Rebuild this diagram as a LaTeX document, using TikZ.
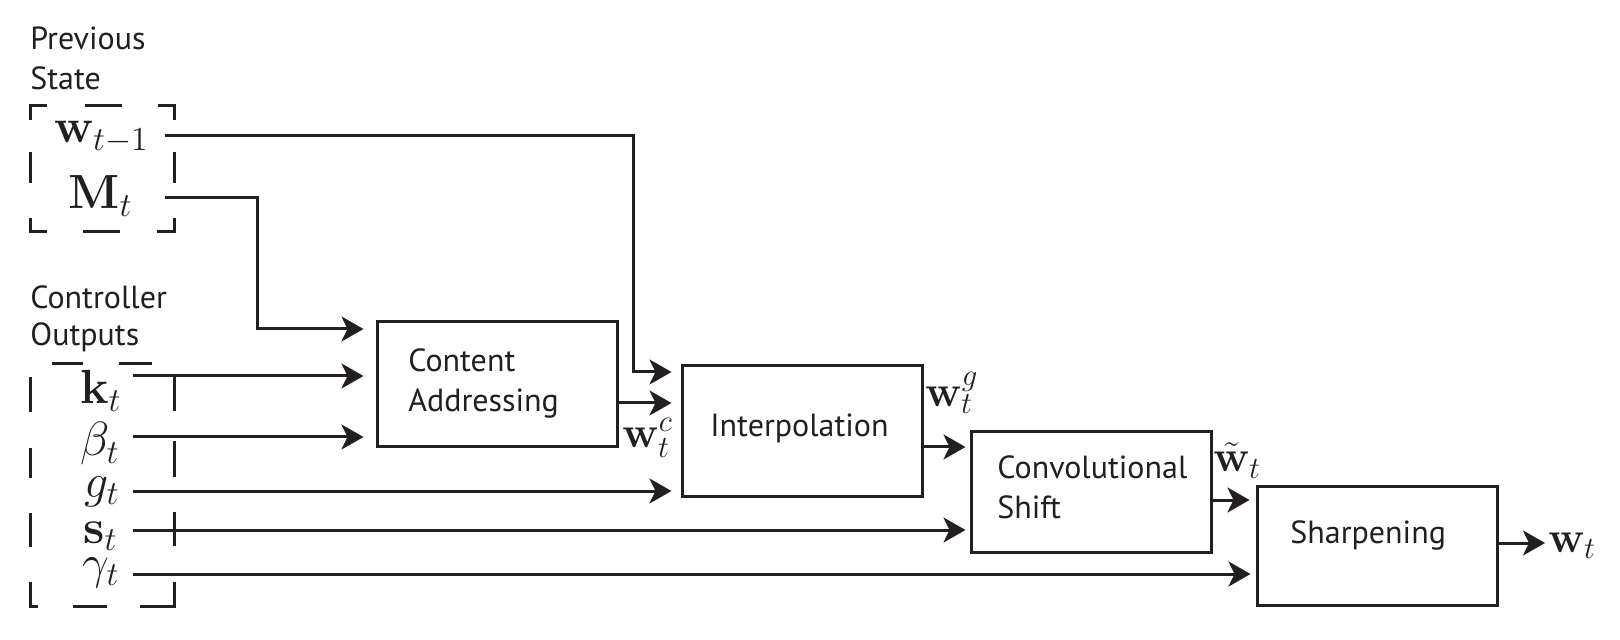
\RequirePackage{fix-cm}
\documentclass[tikz,border=0pt]{standalone}
\usepackage[no-math]{fontspec}
\newfontfamily\lblfont{PT Sans}
\usetikzlibrary{arrows.meta}
\definecolor{ink}{RGB}{35,31,32}
\begin{document}
\begin{tikzpicture}[x=0.5pt,y=-0.5pt,
  box/.style={draw=ink, line width=1.5pt, minimum width=120pt, inner sep=0pt},
  txt/.style={font=\lblfont\fontsize{16pt}{20pt}\selectfont, text=ink, inner sep=0pt},
  mth/.style={font=\fontsize{24pt}{28pt}\selectfont, text=ink, inner sep=0pt},
  mths/.style={font=\fontsize{22pt}{26pt}\selectfont, text=ink, inner sep=0pt},
  arr/.style={draw=ink, line width=1.5pt, -{Stealth[length=11pt,width=12.5pt,inset=3pt]}},
  seg/.style={draw=ink, line width=1.5pt}]
\useasboundingbox (0,0) rectangle (1620,640);

% group labels
\node[txt, align=left, anchor=north west] (prevlbl) at (30,26) {Previous\\State};
\node[txt, align=left, anchor=north west, font=\lblfont\fontsize{16pt}{18.5pt}\selectfont] (ctrllbl) at (30,285) {Controller\\Outputs};

% group frames (invisible nodes) and their dashes
\node[inner sep=0pt, minimum width=72pt, minimum height=63pt] (prevframe) at (102,169) {};
\node[inner sep=0pt, minimum width=72pt, minimum height=121pt] (ctrlframe) at (102,485) {};
\draw[seg] (30,120) -- (30,106) -- (47,106);
\draw[seg] (85,106) -- (122,106);
\draw[seg] (158,106) -- (174,106) -- (174,120);
\draw[seg] (30,152) -- (30,183);
\draw[seg] (174,152) -- (174,183);
\draw[seg] (30,218) -- (30,232) -- (47,232);
\draw[seg] (83,232) -- (120,232);
\draw[seg] (157,232) -- (174,232) -- (174,218);

\draw[seg] (52,364) -- (83,364);
\draw[seg] (119,364) -- (152,364);
\draw[seg] (30,377) -- (30,412);
\draw[seg] (30,448) -- (30,478);
\draw[seg] (30,513) -- (30,547);
\draw[seg] (30,582) -- (30,606) -- (38,606);
\draw[seg] (73,606) -- (107,606);
\draw[seg] (140,606) -- (174,606) -- (174,582);
\draw[seg] (174,377) -- (174,411);
\draw[seg] (174,441) -- (174,477);
\draw[seg] (174,512) -- (174,546);

% input labels
\node[mth, anchor=base east] (wprev) at (149,143) {$\mathbf{w}_{t-1}$};
\node[mth, anchor=base east] (Mt) at (133,209) {$\mathbf{M}_t$};
\node[mth, anchor=base east] (kt) at (122,404) {$\mathbf{k}_t$};
\node[mth, anchor=base east] (bt) at (120,456) {$\beta_t$};
\node[mth, anchor=base east] (gt) at (120,497) {$g_t$};
\node[mth, anchor=base east] (st) at (118,543) {$\mathbf{s}_t$};
\node[mth, anchor=base east] (gamt) at (120,578) {$\gamma_t$};

% boxes
\node[box, minimum height=62.5pt] (ca) at (497,384.5) {};
\node[box, minimum height=65pt] (interp) at (802,431) {};
\node[box, minimum height=60pt] (cs) at (1091,492) {};
\node[box, minimum height=59.5pt] (sharp) at (1377,545.5) {};

\node[txt, align=left, anchor=north west] (catxt) at (408,348) {Content\\Addressing};
\node[txt, anchor=base west] (intxt) at (710,437) {Interpolation};
\node[txt, align=left, anchor=north west] (cstxt) at (997,455) {Convolutional\\Shift};
\node[txt, anchor=base west] (shtxt) at (1290,543) {Sharpening};

% intermediate labels
\node[mths, anchor=base west] (wc) at (622,447) {$\mathbf{w}_t^c$};
\node[mths, anchor=base west] (wg) at (925,407) {$\mathbf{w}_t^g$};
\node[mths, anchor=base west] (wtil) at (1213,472) {$\tilde{\mathbf{w}}_t$};
\node[mths, anchor=base west] (wout) at (1548,552) {$\mathbf{w}_t$};

% connector points
\coordinate (w0) at (165,136);
\coordinate (wb) at (633,372);
\coordinate (m0) at (165,198);
\coordinate (mb) at (257,329);
\coordinate (k0) at (133,376);
\coordinate (b0) at (133,437);
\coordinate (g0) at (133,491);
\coordinate (s0) at (133,530);
\coordinate (y0) at (133,574);
\path (ca.east) ++(0,18.5) coordinate (c0);
\path (interp.east) ++(0,16) coordinate (i0);
\path (cs.east) ++(0,8) coordinate (v0);
\path (sharp.east) ++(0,-2.5) coordinate (h0);

\draw[arr, shorten >=4.5pt] (w0) -| (wb) -- (wb -| interp.west);
\draw[arr, shorten >=6pt] (m0) -| (mb) -- (mb -| ca.west);
\draw[arr, shorten >=6pt] (k0) -- (k0 -| ca.west);
\draw[arr, shorten >=6pt] (b0) -- (b0 -| ca.west);
\draw[arr, shorten >=4.5pt] (g0) -- (g0 -| interp.west);
\draw[arr, shorten >=2pt] (s0) -- (s0 -| cs.west);
\draw[arr, shorten >=2.5pt] (y0) -- (y0 -| sharp.west);
\draw[arr, shorten >=4.5pt] (c0) -- (c0 -| interp.west);
\draw[arr, shorten >=2pt] (i0) -- (i0 -| cs.west);
\draw[arr, shorten >=3pt] (v0) -- (v0 -| sharp.west);
\draw[arr, shorten >=1.5pt] (h0) -- (h0 -| wout.west);
\end{tikzpicture}
\end{document}
